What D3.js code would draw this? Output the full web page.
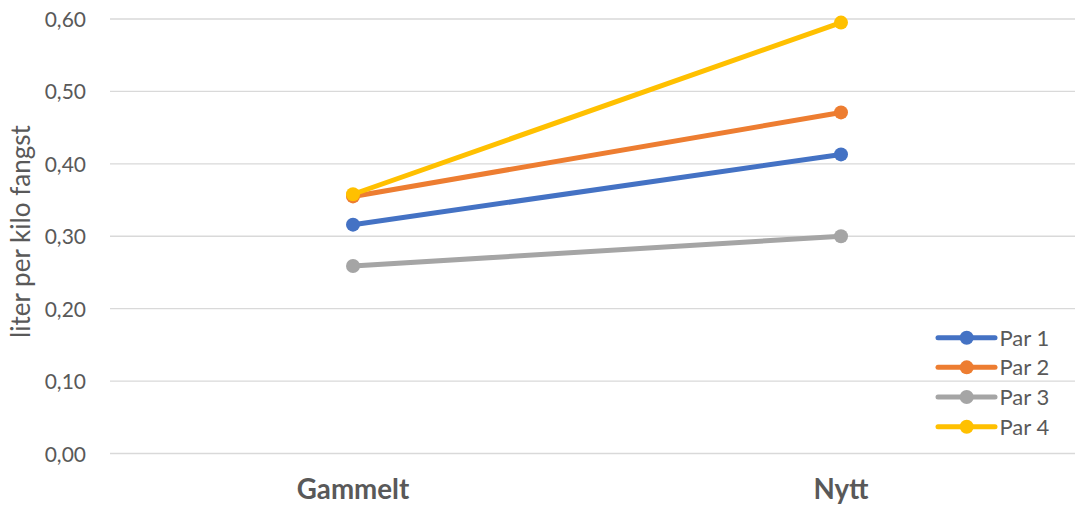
<!DOCTYPE html>
<html>
<head>
<meta charset="utf-8">
<script src="https://cdn.jsdelivr.net/npm/d3@7"></script>
<style>
  html, body { margin: 0; padding: 0; background: #fff; }
  svg { display: block; }
</style>
</head>
<body>
<svg id="chart" width="1075" height="506"></svg>
<script>
const categories = ["Gammelt", "Nytt"];
const seriesNames = ["Par 1", "Par 2", "Par 3", "Par 4"];
const par1 = [0.316, 0.413];
const par2 = [0.355, 0.471];
const par3 = [0.259, 0.300];
const par4 = [0.358, 0.595];
const seriesColors = ["#4472C4", "#ED7D31", "#A5A5A5", "#FFC000"];
const yTicks = [0, 0.1, 0.2, 0.3, 0.4, 0.5, 0.6];
const yTitle = "liter per kilo fangst";

const seriesValues = [par1, par2, par3, par4];
const series = seriesNames.map((name, i) => ({
  name, color: seriesColors[i],
  points: categories.map((c, j) => ({ cat: c, value: seriesValues[i][j] }))
}));

const W = 1075, H = 506;
const svg = d3.select("#chart");
const font = "Lato, 'Open Sans', sans-serif";
const textColor = "#595959";

// scale a text's font size so that it reaches a target width
function fit(sel, target) {
  const node = sel.node();
  const len = node.getComputedTextLength();
  const fs = parseFloat(sel.attr("font-size"));
  if (len > 0) sel.attr("font-size", fs * target / len);
}

const x = d3.scaleBand().domain(categories).range([109, 1085]);
const y = d3.scaleLinear().domain([0, 0.6]).range([453.5, 19]);
const xc = c => x(c) + x.bandwidth() / 2;

// gridlines
svg.append("g").selectAll("line").data(yTicks).join("line")
  .attr("x1", 110).attr("x2", W)
  .attr("y1", d => y(d)).attr("y2", d => y(d))
  .attr("stroke", "#D9D9D9").attr("stroke-width", 1.3);

// y axis labels
const yAxis = d3.axisLeft(y).tickValues(yTicks).tickSize(0).tickPadding(0)
  .tickFormat(d => d3.format(".2f")(d).replace(".", ","));
const gy = svg.append("g").attr("transform", "translate(86,0)").call(yAxis);
gy.select(".domain").remove();
gy.selectAll("text").attr("font-family", font).attr("font-size", 21)
  .attr("fill", textColor).attr("dy", "0.36em");

// x axis labels
const xAxis = d3.axisBottom(x).tickSize(0).tickPadding(0);
const gx = svg.append("g").attr("transform", "translate(0,499)").call(xAxis);
gx.select(".domain").remove();
gx.selectAll("text").attr("font-family", font).attr("font-size", 27.7)
  .attr("font-weight", "bold").attr("fill", textColor).attr("dy", 0);

// y title
const yt = svg.append("text")
  .attr("transform", "translate(29.5,231.5) rotate(-90)")
  .attr("text-anchor", "middle")
  .attr("font-family", font).attr("font-size", 20).attr("fill", textColor)
  .text(yTitle);
fit(yt, 213);

// lines
const line = d3.line().x(d => xc(d.cat)).y(d => y(d.value));
const gs = svg.append("g").selectAll("g").data(series).join("g");
gs.append("path").attr("d", d => line(d.points))
  .attr("fill", "none").attr("stroke", d => d.color)
  .attr("stroke-width", 5).attr("stroke-linecap", "round");
gs.selectAll("circle").data(d => d.points.map(p => ({ ...p, color: d.color }))).join("circle")
  .attr("cx", d => xc(d.cat)).attr("cy", d => y(d.value)).attr("r", 7)
  .attr("fill", d => d.color);

// legend
const leg = svg.append("g").selectAll("g").data(series).join("g")
  .attr("transform", (d, i) => `translate(938,${337.7 + i * 29.67})`);
leg.append("line").attr("x1", 0).attr("x2", 57)
  .attr("stroke", d => d.color).attr("stroke-width", 5).attr("stroke-linecap", "round");
leg.append("circle").attr("cx", 28.7).attr("r", 7).attr("fill", d => d.color);
leg.append("text").attr("x", 61.5).attr("dy", "0.36em")
  .attr("font-family", font).attr("font-size", 22).attr("fill", textColor)
  .text(d => d.name);
</script>
</body>
</html>
